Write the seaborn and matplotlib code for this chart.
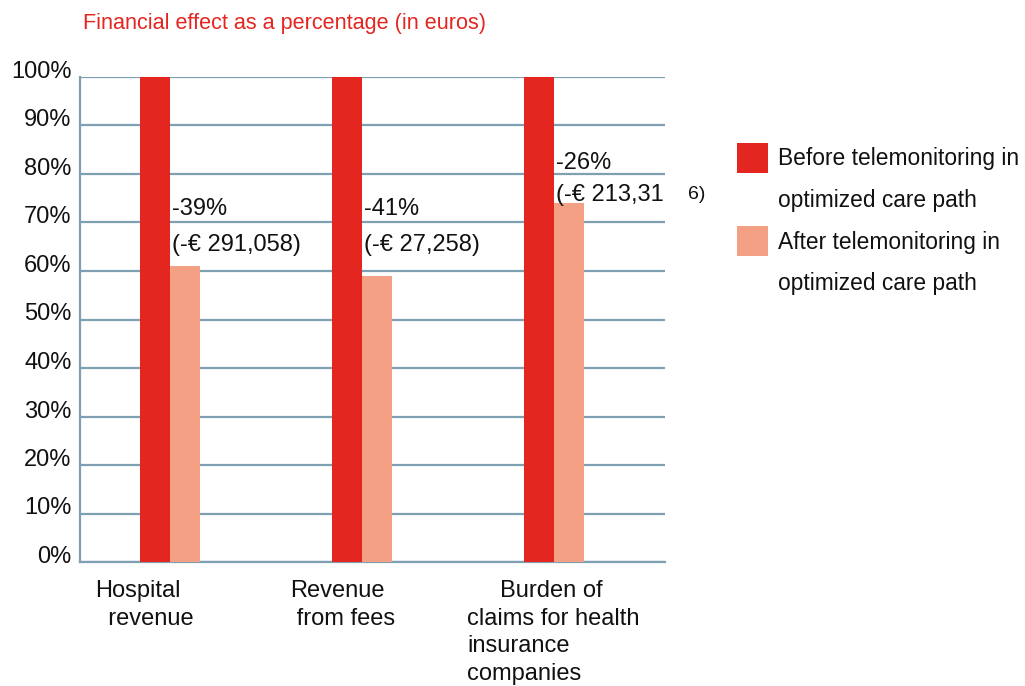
import matplotlib
matplotlib.use("Agg")
import matplotlib.pyplot as plt
import matplotlib.patches as mpatches
import matplotlib.transforms as mtransforms
import seaborn as sns
import pandas as pd

# Data
categories = ["Hospital revenue", "Revenue from fees",
              "Burden of claims for health insurance companies"]
category_labels = ["Hospital\n  revenue", "Revenue\n from fees",
                   "     Burden of\nclaims for health\ninsurance\ncompanies"]
periods = ["Before telemonitoring in optimized care path",
           "After telemonitoring in optimized care path"]
before_values = [100, 100, 100]
after_values = [61, 59, 74]
change_pct = ["-39%", "-41%", "-26%"]
change_eur = ["(-€ 291,058)", "(-€ 27,258)", "(-€ 213,31"]
y_ticks = [0, 10, 20, 30, 40, 50, 60, 70, 80, 90, 100]

RED = "#e32620"
SALMON = "#f4a085"
GRID = "#7f9fb3"

df = pd.DataFrame({
    "category": categories * 2,
    "period": [periods[0]] * 3 + [periods[1]] * 3,
    "value": before_values + after_values,
})

sns.set_theme(style="white")
plt.rcParams["font.family"] = ["Liberation Sans", "DejaVu Sans"]

W, H = 1025, 686
fig = plt.figure(figsize=(W / 100, H / 100), dpi=100)
ax = fig.add_axes([80 / W, 1 - 562 / H, (665 - 80) / W, (562 - 77) / H])

sns.barplot(data=df, x="category", y="value", hue="period", order=categories,
            hue_order=periods, palette=[RED, SALMON], width=0.3125,
            saturation=1, linewidth=0, ax=ax, legend=False, zorder=3)

ax.set_ylim(0, 100)
ax.set_xlim(-0.469, 2.578)
ax.set_yticks(y_ticks)
ax.set_yticklabels([f"{v}%" for v in y_ticks], fontsize=17, color="#111111")
ax.tick_params(axis="y", length=0, pad=6)
# percentage labels sit slightly above their gridlines
lift = mtransforms.ScaledTranslation(0, 0.075, fig.dpi_scale_trans)
for lbl in ax.get_yticklabels():
    lbl.set_transform(lbl.get_transform() + lift)
ax.set_xticks(range(len(categories)))
ax.set_xticklabels([""] * len(categories))
ax.tick_params(axis="x", length=0)
ax.set_xlabel("")
ax.set_ylabel("")

ax.yaxis.grid(True, color=GRID, linewidth=1.6)
ax.xaxis.grid(False)
ax.set_axisbelow(True)
for side in ["top", "right"]:
    ax.spines[side].set_visible(False)
for side in ["left", "bottom"]:
    ax.spines[side].set_color(GRID)
    ax.spines[side].set_linewidth(1.6)

# Category labels under each group
label_x = [-0.39, 0.625, 1.547]
xt = ax.get_xaxis_transform()
for x, lab in zip(label_x, category_labels):
    ax.text(x, -0.037, lab, transform=xt, ha="left", va="top", fontsize=17,
            color="#111111", linespacing=1.33, multialignment="left")

# Change annotations beside the bars
label_y = [(72.8, 65.4), (72.8, 65.4), (82.3, 75.7)]
for i, (pct, eur) in enumerate(zip(change_pct, change_eur)):
    y1, y2 = label_y[i]
    ax.text(i + 0.012, y1, pct, ha="left", va="center", fontsize=17, color="#111111")
    ax.text(i + 0.012, y2, eur, ha="left", va="center", fontsize=17, color="#111111")
ax.text(2.70, 75.7, "6)", ha="left", va="center", fontsize=14, color="#111111")

# Title
fig.text(83 / W, 1 - 23 / H, "Financial effect as a percentage (in euros)",
         ha="left", va="center", fontsize=15.6, color=RED)

# Legend
blank = mpatches.Patch(facecolor="none", edgecolor="none")
handles = [mpatches.Patch(facecolor=RED, edgecolor="none"), blank,
           mpatches.Patch(facecolor=SALMON, edgecolor="none"), blank]
labels = ["Before telemonitoring in", "optimized care path",
          "After telemonitoring in", "optimized care path"]
fig.legend(handles, labels, loc="upper left",
           bbox_to_anchor=(737 / W, 1 - 143 / H), frameon=False,
           fontsize=16.4, handlelength=1.36, handleheight=1.65,
           handletextpad=0.44, labelspacing=0.51, borderpad=0,
           borderaxespad=0, labelcolor="#111111")

fig.savefig("out.png", dpi=100, facecolor="white")
